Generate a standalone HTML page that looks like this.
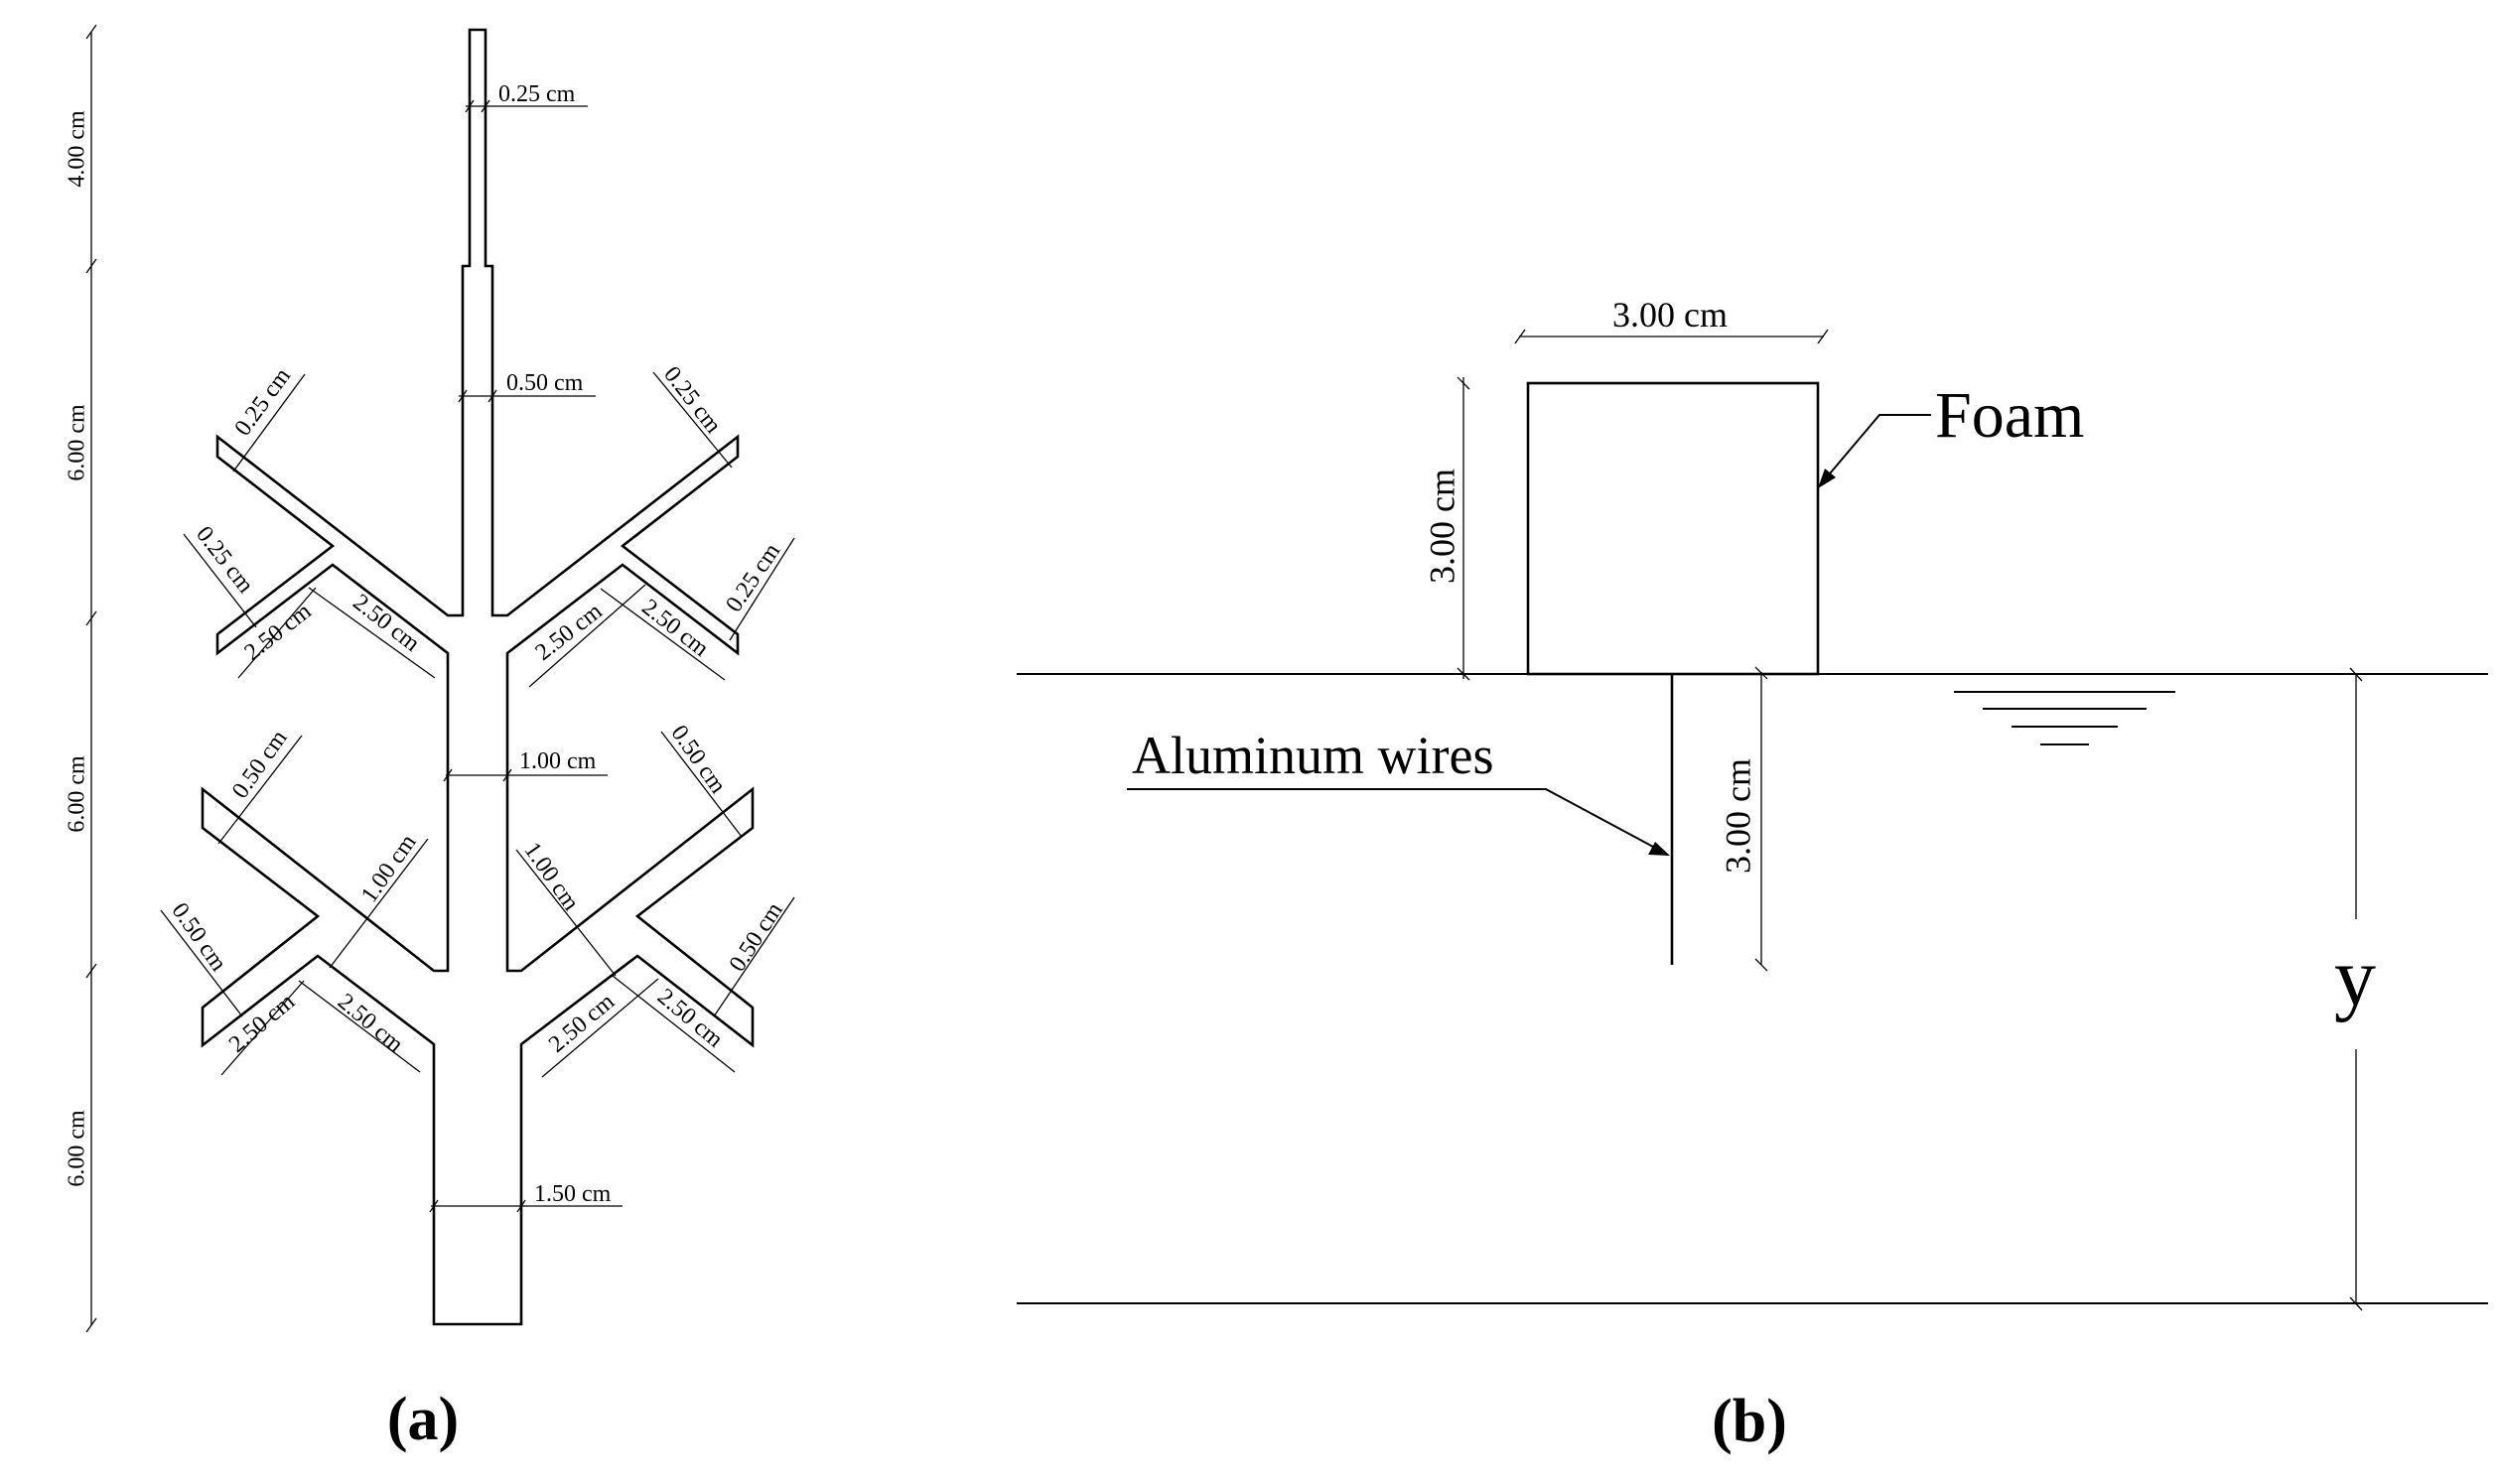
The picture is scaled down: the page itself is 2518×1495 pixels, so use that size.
<!DOCTYPE html>
<html><head><meta charset="utf-8"><style>
html,body{margin:0;padding:0;background:#fff;}
svg{display:block;}
text{font-family:"Liberation Serif",serif;fill:#000;}
.d{stroke:#000;stroke-width:1.3;fill:none;}
.s{font-size:24px;}
</style></head><body>
<svg width="2518" height="1495" viewBox="0 0 2518 1495" xmlns="http://www.w3.org/2000/svg">
<!-- Tree outline -->
<polygon points="473,30 489,30 489,268 496,268 496,620 511,620 743,440 743,460 627,550 743,639 743,658 627,569 511,658 511,978 525,978 758,795 758,834 642,923 758,1015 758,1053 642,963 525,1052 525,1334 437,1334 437,1052 320,963 204,1053 204,1015 320,923 204,834 204,795 437,978 451,978 451,658 335,569 219,658 219,639 335,550 219,460 219,440 451,620 466,620 466,268 473,268" fill="none" stroke="#000" stroke-width="2.6" stroke-linejoin="miter"/>

<!-- Left vertical dimension -->
<line class="d" x1="92" y1="32" x2="92" y2="1335"/>
<g class="d">
<line x1="87" y1="39" x2="97" y2="25"/>
<line x1="87" y1="275" x2="97" y2="261"/>
<line x1="87" y1="630" x2="97" y2="616"/>
<line x1="87" y1="985" x2="97" y2="971"/>
<line x1="87" y1="1342" x2="97" y2="1328"/>
</g>
<text class="s" x="79" y="150" text-anchor="middle" dominant-baseline="middle" transform="rotate(-90 79 150)">4.00 cm</text>
<text class="s" x="79" y="446" text-anchor="middle" dominant-baseline="middle" transform="rotate(-90 79 446)">6.00 cm</text>
<text class="s" x="79" y="800" text-anchor="middle" dominant-baseline="middle" transform="rotate(-90 79 800)">6.00 cm</text>
<text class="s" x="79" y="1157" text-anchor="middle" dominant-baseline="middle" transform="rotate(-90 79 1157)">6.00 cm</text>

<!-- horizontal dims on stem -->
<line class="d" x1="469" y1="107" x2="592" y2="107"/>
<line class="d" x1="469" y1="113" x2="477" y2="101"/><line class="d" x1="485" y1="113" x2="493" y2="101"/>
<text class="s" x="502" y="102">0.25 cm</text>
<line class="d" x1="462" y1="399" x2="600" y2="399"/>
<line class="d" x1="462" y1="405" x2="470" y2="393"/><line class="d" x1="492" y1="405" x2="500" y2="393"/>
<text class="s" x="510" y="393">0.50 cm</text>
<line class="d" x1="449" y1="781" x2="612" y2="781"/>
<line class="d" x1="447" y1="787" x2="455" y2="775"/><line class="d" x1="507" y1="787" x2="515" y2="775"/>
<text class="s" x="523" y="774">1.00 cm</text>
<line class="d" x1="434" y1="1215" x2="627" y2="1215"/>
<line class="d" x1="433" y1="1221" x2="441" y2="1209"/><line class="d" x1="521" y1="1221" x2="529" y2="1209"/>
<text class="s" x="538" y="1210">1.50 cm</text>

<g class="d">
<line x1="235" y1="475" x2="307" y2="377"/>
<line x1="658" y1="375" x2="737" y2="471"/>
<line x1="185" y1="538" x2="258" y2="632"/>
<line x1="735" y1="645" x2="800" y2="542"/>
<line x1="240" y1="683" x2="318" y2="592"/>
<line x1="311" y1="592" x2="438" y2="683"/>
<line x1="533" y1="692" x2="650" y2="589"/>
<line x1="605" y1="593" x2="730" y2="685"/>
<line x1="220" y1="850" x2="304" y2="741"/>
<line x1="332" y1="975" x2="431" y2="845"/>
<line x1="162" y1="917" x2="244" y2="1024"/>
<line x1="223" y1="1083" x2="306" y2="988"/>
<line x1="301" y1="988" x2="423" y2="1080"/>
<line x1="666" y1="737" x2="747" y2="843"/>
<line x1="520" y1="856" x2="620" y2="983"/>
<line x1="719" y1="1024" x2="800" y2="904"/>
<line x1="546" y1="1085" x2="663" y2="986"/>
<line x1="617" y1="983" x2="740" y2="1080"/>
</g>
<g class="s">
<text x="266" y="406" text-anchor="middle" dominant-baseline="middle" transform="rotate(-54 266 406)">0.25 cm</text>
<text x="696" y="404" text-anchor="middle" dominant-baseline="middle" transform="rotate(52 696 404)">0.25 cm</text>
<text x="225" y="565" text-anchor="middle" dominant-baseline="middle" transform="rotate(52 225 565)">0.25 cm</text>
<text x="760" y="583" text-anchor="middle" dominant-baseline="middle" transform="rotate(-56 760 583)">0.25 cm</text>
<text x="281" y="638" text-anchor="middle" dominant-baseline="middle" transform="rotate(-38 281 638)">2.50 cm</text>
<text x="388" y="629" text-anchor="middle" dominant-baseline="middle" transform="rotate(38 388 629)">2.50 cm</text>
<text x="574" y="638" text-anchor="middle" dominant-baseline="middle" transform="rotate(-38 574 638)">2.50 cm</text>
<text x="679" y="634" text-anchor="middle" dominant-baseline="middle" transform="rotate(38 679 634)">2.50 cm</text>
<text x="263" y="771" text-anchor="middle" dominant-baseline="middle" transform="rotate(-55 263 771)">0.50 cm</text>
<text x="393" y="876" text-anchor="middle" dominant-baseline="middle" transform="rotate(-55 393 876)">1.00 cm</text>
<text x="199" y="945" text-anchor="middle" dominant-baseline="middle" transform="rotate(55 199 945)">0.50 cm</text>
<text x="265" y="1032" text-anchor="middle" dominant-baseline="middle" transform="rotate(-40 265 1032)">2.50 cm</text>
<text x="372" y="1032" text-anchor="middle" dominant-baseline="middle" transform="rotate(40 372 1032)">2.50 cm</text>
<text x="702" y="766" text-anchor="middle" dominant-baseline="middle" transform="rotate(55 702 766)">0.50 cm</text>
<text x="554" y="884" text-anchor="middle" dominant-baseline="middle" transform="rotate(55 554 884)">1.00 cm</text>
<text x="763" y="945" text-anchor="middle" dominant-baseline="middle" transform="rotate(-57 763 945)">0.50 cm</text>
<text x="587" y="1032" text-anchor="middle" dominant-baseline="middle" transform="rotate(-40 587 1032)">2.50 cm</text>
<text x="694" y="1027" text-anchor="middle" dominant-baseline="middle" transform="rotate(40 694 1027)">2.50 cm</text>
</g>

<text x="426" y="1450" text-anchor="middle" style="font-size:62px;font-weight:bold">(a)</text>

<!-- Panel b -->
<line x1="1024" y1="679" x2="2506" y2="679" stroke="#000" stroke-width="2"/>
<line x1="1024" y1="1313" x2="2506" y2="1313" stroke="#000" stroke-width="2"/>
<rect x="1539" y="386" width="292" height="293" fill="none" stroke="#000" stroke-width="2.6"/>
<line x1="1684" y1="679" x2="1684" y2="972" stroke="#000" stroke-width="2.6"/>

<line class="d" x1="1530" y1="339" x2="1837" y2="339"/>
<line class="d" x1="1526" y1="346" x2="1536" y2="332"/><line class="d" x1="1831" y1="346" x2="1841" y2="332"/>
<text x="1682" y="329" text-anchor="middle" style="font-size:36px">3.00 cm</text>
<line class="d" x1="1474" y1="380" x2="1474" y2="684"/>
<line class="d" x1="1468" y1="380" x2="1480" y2="392"/><line class="d" x1="1468" y1="673" x2="1480" y2="685"/>
<text x="1456" y="530" text-anchor="middle" dominant-baseline="middle" transform="rotate(-90 1456 530)" style="font-size:36px">3.00 cm</text>
<line class="d" x1="1774" y1="677" x2="1774" y2="972"/>
<line class="d" x1="1768" y1="672" x2="1780" y2="684"/><line class="d" x1="1768" y1="966" x2="1780" y2="978"/>
<text x="1754" y="822" text-anchor="middle" dominant-baseline="middle" transform="rotate(-90 1754 822)" style="font-size:36px">3.00 cm</text>

<text x="1949" y="440" style="font-size:66px">Foam</text>
<polyline points="1945,418 1893,418 1838,483" fill="none" stroke="#000" stroke-width="2"/>
<polygon points="1831,492 1838,472 1849,481" fill="#000"/>

<text x="1140" y="779" style="font-size:54px">Aluminum wires</text>
<polyline points="1135,795 1557,795 1678,860" fill="none" stroke="#000" stroke-width="2"/>
<polygon points="1682,862 1660,861 1667,848" fill="#000"/>

<g stroke="#000" stroke-width="2">
<line x1="1968" y1="697" x2="2191" y2="697"/>
<line x1="1997" y1="714" x2="2162" y2="714"/>
<line x1="2026" y1="732" x2="2133" y2="732"/>
<line x1="2055" y1="750" x2="2104" y2="750"/>
</g>

<line class="d" x1="2373" y1="679" x2="2373" y2="926"/>
<line class="d" x1="2373" y1="1057" x2="2373" y2="1313"/>
<line class="d" x1="2367" y1="673" x2="2379" y2="686"/><line class="d" x1="2367" y1="1307" x2="2379" y2="1320"/>
<text x="2372" y="1012" text-anchor="middle" style="font-size:84px">y</text>

<text x="1762" y="1452" text-anchor="middle" style="font-size:62px;font-weight:bold">(b)</text>
</svg>
</body></html>
